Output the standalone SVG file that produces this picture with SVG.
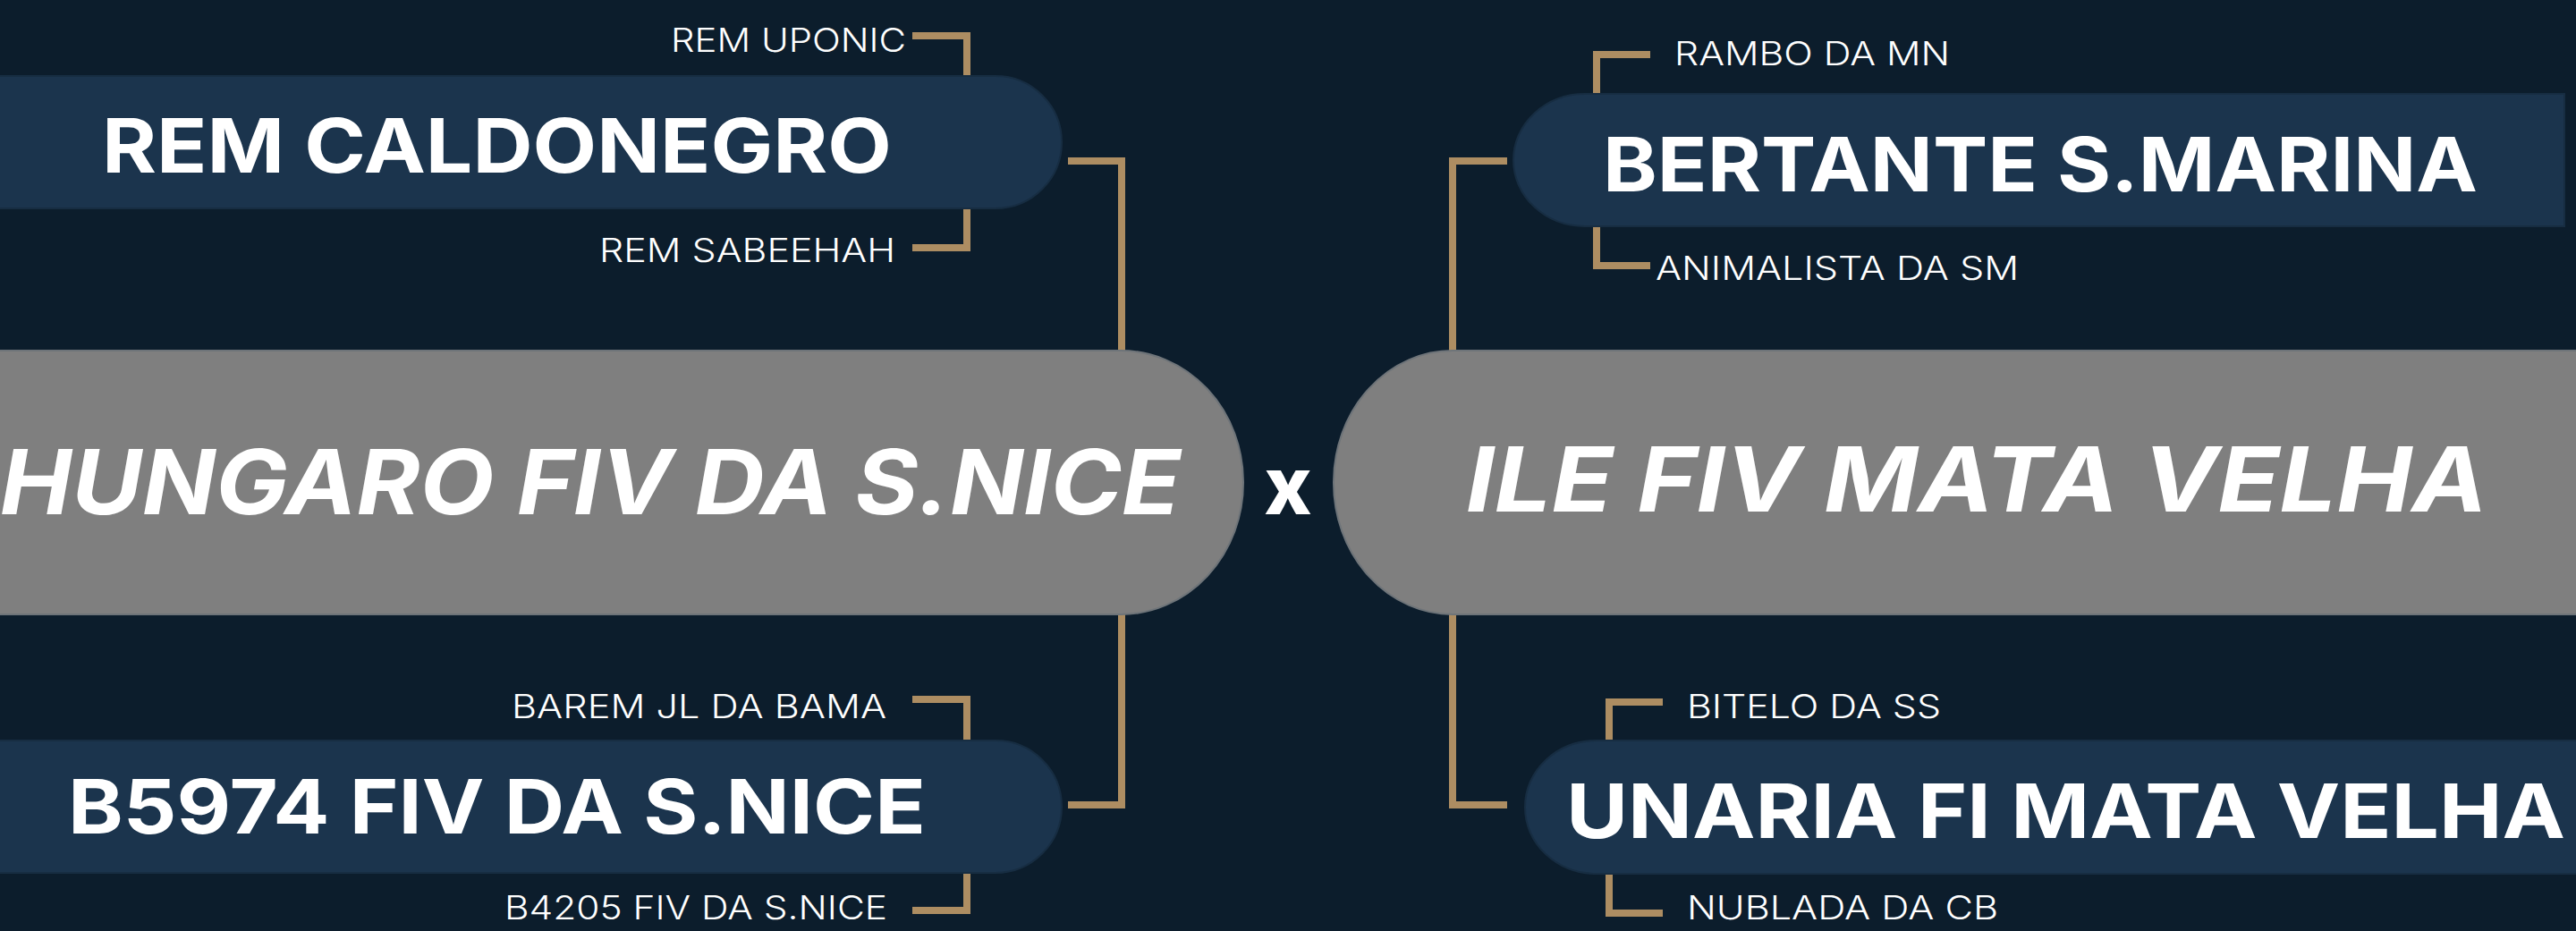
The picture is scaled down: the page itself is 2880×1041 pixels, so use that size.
<svg xmlns="http://www.w3.org/2000/svg" width="2880" height="1041" viewBox="0 0 2880 1041">
<style>
.bg{fill:#0c1d2c}
.navy{fill:#1b344d;stroke:#172d42;stroke-width:2}
.grey{fill:#7f7f7f;stroke:#6e7479;stroke-width:2}
.con{fill:none;stroke:#ad8d62;stroke-width:8;stroke-linejoin:miter;stroke-linecap:butt}
text{fill:#ffffff;font-family:Inter,"Liberation Sans",sans-serif}
.small{font-size:37px;font-weight:300}
.main{font-size:84px;font-weight:700}
.big{font-size:100px;font-weight:700;font-style:italic}
.x{font-size:90px;font-weight:800}
</style>
<rect class="bg" x="0" y="0" width="2880" height="1041"/>
<g id="connectors">
<path class="con" d="M1020,40 H1081 V160"/>
<path class="con" d="M1020,277 H1081 V200"/>
<path class="con" d="M1194,180 H1254 V420"/>
<path class="con" d="M1194,900 H1254 V660"/>
<path class="con" d="M1020,782 H1081 V850"/>
<path class="con" d="M1020,1018 H1081 V950"/>
<path class="con" d="M1845,61 H1785 V150"/>
<path class="con" d="M1845,297 H1785 V200"/>
<path class="con" d="M1685,180 H1624 V420"/>
<path class="con" d="M1685,900 H1624 V660"/>
<path class="con" d="M1859,785 H1799 V850"/>
<path class="con" d="M1859,1021 H1799 V950"/>
</g>
<g id="sire">
<rect class="grey" x="-300" y="392" width="1690" height="295" rx="137" ry="147"/>
<text class="big" x="0" y="575" textLength="1320" lengthAdjust="spacingAndGlyphs">HUNGARO FIV DA S.NICE</text>
</g>
<g id="cross">
<text class="x" x="1440" y="575" text-anchor="middle">x</text>
</g>
<g id="dam">
<rect class="grey" x="1491" y="392" width="1690" height="295" rx="133" ry="147"/>
<text class="big" x="1639" y="572" textLength="1142" lengthAdjust="spacingAndGlyphs">ILE FIV MATA VELHA</text>
</g>
<g id="sire-sire">
<rect class="navy" x="-200" y="85" width="1387" height="148" rx="74" ry="74"/>
<text class="main" x="114" y="193" textLength="883" lengthAdjust="spacingAndGlyphs">REM CALDONEGRO</text>
</g>
<g id="sire-dam">
<rect class="navy" x="-200" y="828" width="1387" height="148" rx="74" ry="74"/>
<text class="main" x="76" y="932" textLength="959" lengthAdjust="spacingAndGlyphs">B5974 FIV DA S.NICE</text>
</g>
<g id="dam-sire">
<path class="navy" d="M2867,105 V253 H1772 A80,74 0 0 1 1772,105 Z"/>
<text class="main" x="1792" y="214" textLength="978" lengthAdjust="spacingAndGlyphs">BERTANTE S.MARINA</text>
</g>
<g id="dam-dam">
<rect class="navy" x="1705" y="828" width="1400" height="149" rx="80" ry="74"/>
<text class="main" x="1751" y="937" textLength="1117" lengthAdjust="spacingAndGlyphs">UNARIA FI MATA VELHA</text>
</g>
<g id="ss-sire"><text class="small" x="750" y="58" textLength="263" lengthAdjust="spacingAndGlyphs">REM UPONIC</text></g>
<g id="ss-dam"><text class="small" x="670" y="293" textLength="331" lengthAdjust="spacingAndGlyphs">REM SABEEHAH</text></g>
<g id="sd-sire"><text class="small" x="572" y="803" textLength="419" lengthAdjust="spacingAndGlyphs">BAREM JL DA BAMA</text></g>
<g id="sd-dam"><text class="small" x="564" y="1028" textLength="428" lengthAdjust="spacingAndGlyphs">B4205 FIV DA S.NICE</text></g>
<g id="ds-sire"><text class="small" x="1872" y="73" textLength="308" lengthAdjust="spacingAndGlyphs">RAMBO DA MN</text></g>
<g id="ds-dam"><text class="small" x="1851" y="313" textLength="406" lengthAdjust="spacingAndGlyphs">ANIMALISTA DA SM</text></g>
<g id="dd-sire"><text class="small" x="1886" y="803" textLength="284" lengthAdjust="spacingAndGlyphs">BITELO DA SS</text></g>
<g id="dd-dam"><text class="small" x="1886" y="1028" textLength="348" lengthAdjust="spacingAndGlyphs">NUBLADA DA CB</text></g>
</svg>
